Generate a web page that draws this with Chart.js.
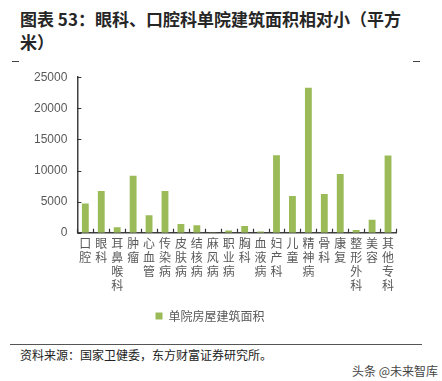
<!DOCTYPE html>
<html>
<head>
<meta charset="utf-8">
<script src="https://cdn.jsdelivr.net/npm/chart.js@4"></script>
<style>
  html, body { margin: 0; padding: 0; background: #fff; }
  body { width: 442px; height: 381px; position: relative; overflow: hidden; font-family: "Noto Sans CJK SC", sans-serif; }
  #title { position: absolute; left: 20px; top: 7px; font-size: 17px; font-weight: bold; line-height: 23px; color: #262626; white-space: nowrap; }
  .dash { position: absolute; top: 61px; width: 7px; height: 1px; background: #444; }
  #chartWrap { position: absolute; left: 0; top: 60px; width: 442px; height: 280px; }
  #rule { position: absolute; left: 10px; top: 344px; width: 412px; height: 1px; background: #555; }
  #source { position: absolute; left: 20px; top: 347px; font-size: 12px; line-height: 16px; color: #222; white-space: nowrap; }
  #mark { position: absolute; left: 352px; top: 363px; font-size: 12px; line-height: 16px; color: #444; white-space: nowrap; }
</style>
</head>
<body>
<div id="title">图表 53：眼科、口腔科单院建筑面积相对小（平方<br>米）</div>
<div class="dash" style="left:12px"></div>
<div class="dash" style="left:413px"></div>
<div id="chartWrap"><canvas id="c" width="442" height="280"></canvas></div>
<div id="rule"></div>
<div id="source">资料来源：国家卫健委，东方财富证券研究所。</div>
<div id="mark">头条 @未来智库</div>
<script>
const categories = ['口腔','眼科','耳鼻喉科','肿瘤','心血管','传染病','皮肤病','结核病','麻风病','职业病','胸科','血液病','妇产科','儿童','精神病','骨科','康复','整形外科','美容','其他专科'];
const areaValues = [4700, 6700, 900, 9150, 2800, 6700, 1400, 1200, 30, 350, 1100, 200, 12450, 5900, 23300, 6250, 9450, 450, 2100, 12400];
const seriesName = '单院房屋建筑面积';
const yTicks = [0, 5000, 10000, 15000, 20000, 25000];

// vertical (stacked character) labels
const stackedLabels = categories.map(s => Array.from(s));

const insideTicks = {
  id: 'insideTicks',
  afterDatasetsDraw(chart) {
    const ctx = chart.ctx;
    const x = chart.scales.x, y = chart.scales.y;
    const area = chart.chartArea;
    ctx.save();
    ctx.strokeStyle = '#333';
    ctx.lineWidth = 1.2;
    ctx.beginPath();
    yTicks.forEach(v => {
      const py = Math.round(y.getPixelForValue(v)) + 0.5;
      ctx.moveTo(area.left, py);
      ctx.lineTo(area.left + 4, py);
    });
    const n = categories.length;
    const half = (x.getPixelForValue(1) - x.getPixelForValue(0)) / 2;
    for (let i = 0; i <= n; i++) {
      const px = Math.round(i < n ? x.getPixelForValue(i) - half : x.getPixelForValue(n - 1) + half) + 0.5;
      ctx.moveTo(px, area.bottom);
      ctx.lineTo(px, area.bottom - 4);
    }
    ctx.stroke();
    ctx.restore();
  }
};

new Chart(document.getElementById('c'), {
  type: 'bar',
  data: {
    labels: stackedLabels,
    datasets: [{
      label: seriesName,
      data: areaValues,
      backgroundColor: '#9BBB59',
      borderWidth: 0,
      barPercentage: 0.43,
      categoryPercentage: 1.0
    }]
  },
  options: {
    responsive: false,
    animation: false,
    devicePixelRatio: 1,
    layout: { padding: { left: 24, right: 46, top: 15.5, bottom: 8 } },
    plugins: {
      legend: {
        position: 'bottom',
        labels: {
          boxWidth: 7, boxHeight: 7, padding: 10,
          color: '#595959',
          font: { family: '"Noto Sans CJK SC", sans-serif', size: 12 }
        }
      },
      tooltip: { enabled: false }
    },
    scales: {
      x: {
        offset: true,
        grid: { display: false, drawOnChartArea: false, drawTicks: false },
        border: { display: true, color: '#404040', width: 1.5 },
        ticks: {
          autoSkip: false, maxRotation: 0, minRotation: 0, padding: 4,
          color: '#595959',
          font: { family: '"Noto Sans CJK SC", sans-serif', size: 12, lineHeight: 1.15 }
        },
        afterFit(scale) { scale.height += 4; }
      },
      y: {
        min: 0, max: 25000,
        afterBuildTicks(scale) { scale.ticks = yTicks.map(v => ({ value: v })); },
        grid: { display: false, drawOnChartArea: false, drawTicks: false },
        border: { display: true, color: '#404040', width: 1.5 },
        ticks: {
          padding: 10,
          color: '#595959',
          font: { family: 'Arial, "Liberation Sans", sans-serif', size: 12 },
          callback: (v) => String(v)
        }
      }
    }
  },
  plugins: [insideTicks]
});
</script>
</body>
</html>
